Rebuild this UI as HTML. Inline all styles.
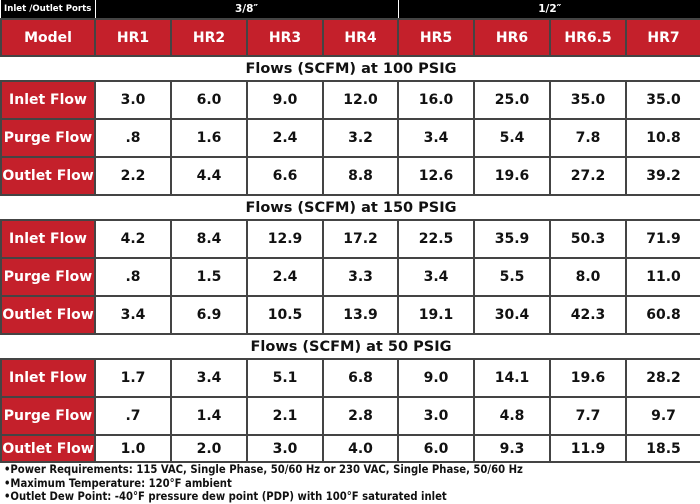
<!DOCTYPE html><html><head><style>
body{margin:0;width:700px;height:504px;background:#fff;overflow:hidden;font-family:"DejaVu Sans","Liberation Sans",sans-serif;font-weight:bold}
table{border-collapse:collapse;table-layout:fixed;width:700px;position:absolute;left:0;top:0}
td{border:2px solid #444;text-align:center;padding:0;font-size:14px;color:#111;overflow:hidden;white-space:nowrap}
td.r{background:#c4202b;color:#fff;font-size:14px}
tr.h td{background:#000;color:#fff;font-size:10.5px;border:0;border-left:1px solid #fff}
tr.h td:first-child{border-left:0;text-align:left;padding-left:3px;font-size:8.6px}
tr.t td{font-size:14.5px;border-left:0;border-right:0}
.f{position:absolute;left:4px;top:463px;font-family:"DejaVu Sans Condensed","DejaVu Sans",sans-serif;font-size:11.2px;line-height:13.5px;color:#111}
</style></head><body>
<table>
<col style="width:94px"><col style="width:76px"><col style="width:76px"><col style="width:76px"><col style="width:75px"><col style="width:76px"><col style="width:76px"><col style="width:76px"><col style="width:75px">
<tr class="h" style="height:19px"><td>Inlet /Outlet Ports</td><td colspan="4">3/8″</td><td colspan="4">1/2″</td></tr>
<tr style="height:37px"><td class="r">Model</td><td class="r">HR1</td><td class="r">HR2</td><td class="r">HR3</td><td class="r">HR4</td><td class="r">HR5</td><td class="r">HR6</td><td class="r">HR6.5</td><td class="r">HR7</td></tr>
<tr class="t" style="height:25px"><td colspan="9">Flows (SCFM) at 100 PSIG</td></tr>
<tr style="height:38px"><td class="r">Inlet Flow</td><td>3.0</td><td>6.0</td><td>9.0</td><td>12.0</td><td>16.0</td><td>25.0</td><td>35.0</td><td>35.0</td></tr>
<tr style="height:38px"><td class="r">Purge Flow</td><td>.8</td><td>1.6</td><td>2.4</td><td>3.2</td><td>3.4</td><td>5.4</td><td>7.8</td><td>10.8</td></tr>
<tr style="height:38px"><td class="r">Outlet Flow</td><td>2.2</td><td>4.4</td><td>6.6</td><td>8.8</td><td>12.6</td><td>19.6</td><td>27.2</td><td>39.2</td></tr>
<tr class="t" style="height:25px"><td colspan="9">Flows (SCFM) at 150 PSIG</td></tr>
<tr style="height:38px"><td class="r">Inlet Flow</td><td>4.2</td><td>8.4</td><td>12.9</td><td>17.2</td><td>22.5</td><td>35.9</td><td>50.3</td><td>71.9</td></tr>
<tr style="height:38px"><td class="r">Purge Flow</td><td>.8</td><td>1.5</td><td>2.4</td><td>3.3</td><td>3.4</td><td>5.5</td><td>8.0</td><td>11.0</td></tr>
<tr style="height:38px"><td class="r">Outlet Flow</td><td>3.4</td><td>6.9</td><td>10.5</td><td>13.9</td><td>19.1</td><td>30.4</td><td>42.3</td><td>60.8</td></tr>
<tr class="t" style="height:25px"><td colspan="9">Flows (SCFM) at 50 PSIG</td></tr>
<tr style="height:38px"><td class="r">Inlet Flow</td><td>1.7</td><td>3.4</td><td>5.1</td><td>6.8</td><td>9.0</td><td>14.1</td><td>19.6</td><td>28.2</td></tr>
<tr style="height:38px"><td class="r">Purge Flow</td><td>.7</td><td>1.4</td><td>2.1</td><td>2.8</td><td>3.0</td><td>4.8</td><td>7.7</td><td>9.7</td></tr>
<tr style="height:27px"><td class="r">Outlet Flow</td><td>1.0</td><td>2.0</td><td>3.0</td><td>4.0</td><td>6.0</td><td>9.3</td><td>11.9</td><td>18.5</td></tr>
</table>
<div class="f">•Power Requirements: 115 VAC, Single Phase, 50/60 Hz or 230 VAC, Single Phase, 50/60 Hz<br>•Maximum Temperature: 120°F ambient<br>•Outlet Dew Point: -40°F pressure dew point (PDP) with 100°F saturated inlet</div>
</body></html>
